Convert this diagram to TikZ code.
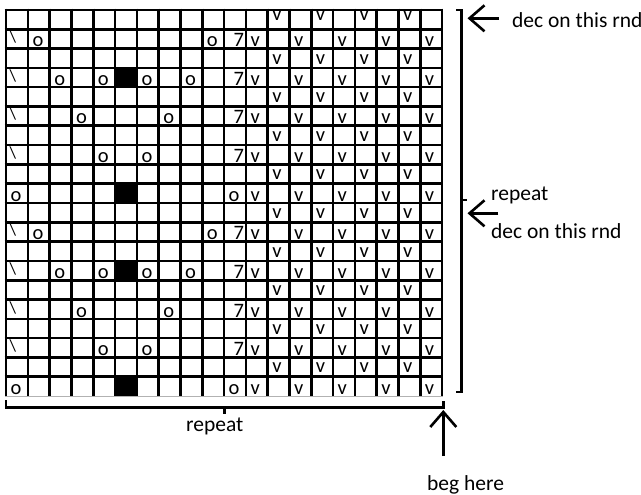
\documentclass[tikz,border=0pt]{standalone}
\usepackage{fontspec}
\setmainfont{Carlito}
\usetikzlibrary{arrows.meta}
\newcommand{\putl}[3]{\node[cellt,anchor=base west] (n#1-#2) at ({6+(#2-1)*21.8+4.5},{10+(#1-1)*19.3+17.5}) {#3};}
\newcommand{\putr}[3]{\node[cellt,anchor=base east] (n#1-#2) at ({6+(#2)*21.8-1.5},{10+(#1-1)*19.3+17.5}) {#3};}
\newcommand{\putbs}[1]{\node[bst,anchor=base west] (n#1-1) at ({6+3.5},{10+(#1-1)*19.3+13.5}) {\textbackslash};}
\newcommand{\blk}[2]{\fill[black] ({6+(#2-1)*21.8},{10+(#1-1)*19.3}) rectangle ({6+(#2)*21.8},{10+(#1)*19.3});}
\begin{document}
\begin{tikzpicture}[x=1pt,y=-1pt,
  gridline/.style={line width=2.6pt,black},
  cellt/.style={font=\fontsize{20.5}{22}\selectfont,inner sep=0pt},
  bst/.style={font=\fontsize{17}{18}\selectfont,inner sep=0pt},
  lbl/.style={font=\fontsize{21.5}{24}\selectfont,inner sep=0pt,anchor=base west},
  brk/.style={line width=2.6pt,line join=miter},
  arr/.style={line width=2.6pt,-{Straight Barb[length=15pt,width=26pt,line width=2.6pt]}}]
\useasboundingbox (0,0) rectangle (641,495);
% black cells
\foreach \r in {4,10,14,20} {\blk{\r}{6}}
% grid
\foreach \i in {0,...,20} \draw[gridline] ({6+\i*21.8},8.7) -- ({6+\i*21.8},396);
\foreach \j in {0,...,19} \draw[gridline] (4.7,{10+\j*19.3}) -- (443.3,{10+\j*19.3});
\draw[gray!60,line width=0.6pt] (5,396.3) -- (443,396.3);
% v columns
\foreach \r in {2,4,...,20} {\foreach \c in {12,14,...,20} {\putl{\r}{\c}{v}}}
\foreach \r in {3,5,...,19} {\foreach \c in {13,15,...,19}
  {\node[cellt,anchor=base west] (n\r-\c) at ({6+(\c-1)*21.8+4.5},{10+(\r-1)*19.3+15.5}) {v};}}
\foreach \c in {13,15,...,19}
  {\node[cellt,anchor=base west] (n1-\c) at ({6+(\c-1)*21.8+4.5},{10+11}) {v};}
% pattern
\foreach \k in {0,10} {
  \pgfmathtruncatemacro\ra{2+\k}
  \pgfmathtruncatemacro\rb{4+\k}
  \pgfmathtruncatemacro\rc{6+\k}
  \pgfmathtruncatemacro\rd{8+\k}
  \pgfmathtruncatemacro\re{10+\k}
  \putbs{\ra}\putl{\ra}{2}{o}\putl{\ra}{10}{o}\putr{\ra}{11}{7}
  \putbs{\rb}\putl{\rb}{3}{o}\putl{\rb}{5}{o}\putl{\rb}{7}{o}\putl{\rb}{9}{o}\putr{\rb}{11}{7}
  \putbs{\rc}\putl{\rc}{4}{o}\putl{\rc}{8}{o}\putr{\rc}{11}{7}
  \putbs{\rd}\putl{\rd}{5}{o}\putl{\rd}{7}{o}\putr{\rd}{11}{7}
  \putl{\re}{1}{o}\putl{\re}{11}{o}
}
% right bracket
\coordinate (rb1) at (456,10);
\coordinate (rb2) at (461.5,10);
\coordinate (rb3) at (461.5,392);
\coordinate (rb4) at (456,392);
\coordinate (rbm) at (461.5,200);
\coordinate (rbt) at (467,200);
\draw[brk] (rb1) -- (rb2) -- (rb3) -- (rb4);
\draw[brk] (rbm) -- (rbt);
% bottom bracket
\coordinate (bb1) at (6,400);
\coordinate (bb2) at (6,407.5);
\coordinate (bb3) at (443.5,407.5);
\coordinate (bb4) at (443.5,401);
\coordinate (bbm) at (224.3,407.5);
\coordinate (bbt) at (224.3,414);
\draw[brk] (bb1) -- (bb2) -- (bb3) -- (bb4);
\draw[brk] (bbm) -- (bbt);
% labels
\node[lbl] (t1) at (512,27.3) {dec on this rnd};
\node[lbl] (t2) at (491,200.7) {repeat};
\node[lbl] (t3) at (491,238.3) {dec on this rnd};
\node[lbl] (t4) at (186,431.7) {repeat};
\node[lbl] (t5) at (427,490) {beg here};
% arrows
\coordinate (a1s) at (499,18.3);
\coordinate (a1e) at (467.5,18.3);
\coordinate (a2s) at (498.3,213.3);
\coordinate (a2e) at (467.5,213.3);
\coordinate (a3s) at (443.3,456);
\coordinate (a3e) at (443.3,410);
\draw[arr] (a1s) -- (a1e);
\draw[arr] (a2s) -- (a2e);
\draw[arr] (a3s) -- (a3e);
\end{tikzpicture}
\end{document}
